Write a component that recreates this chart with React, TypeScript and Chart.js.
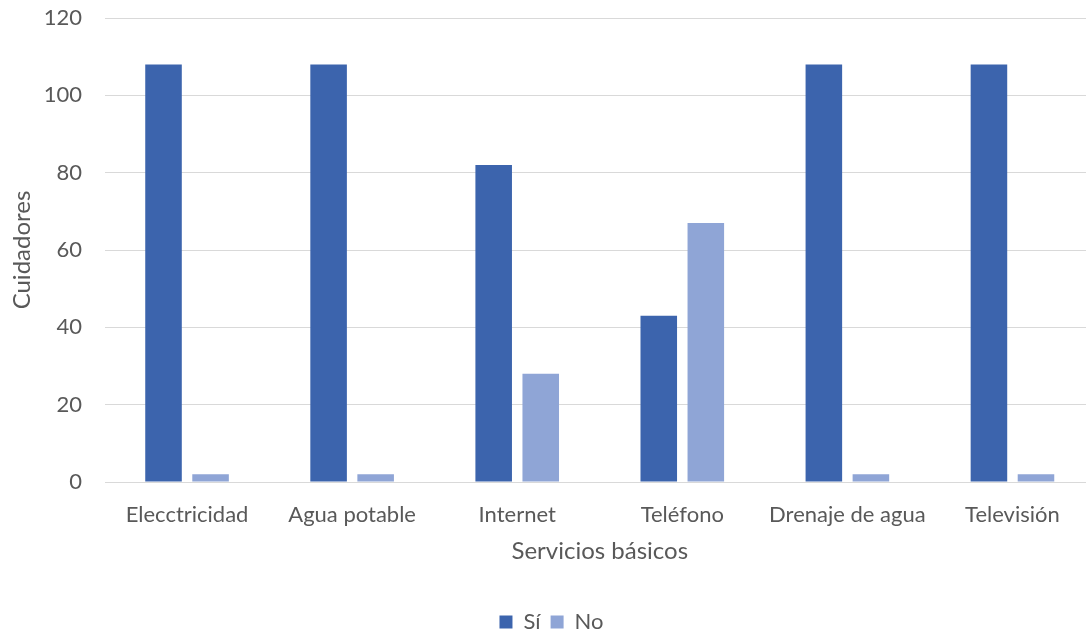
import React, { useEffect, useRef } from "react";
import { Chart, registerables } from "chart.js";

Chart.register(...registerables);

// Servicios básicos de los cuidadores
const categories = [
  "Elecctricidad",
  "Agua potable",
  "Internet",
  "Teléfono",
  "Drenaje de agua",
  "Televisión",
];
const siValues = [108, 108, 82, 43, 108, 108];
const noValues = [2, 2, 28, 67, 2, 2];
const yTicks = { min: 0, max: 120, step: 20 };

const FONT = "Lato, 'Open Sans', sans-serif";
const TEXT = "#595959";
const GRID = "#d9d9d9";

export default function App() {
  const canvasRef = useRef<HTMLCanvasElement | null>(null);

  useEffect(() => {
    const canvas = canvasRef.current;
    if (!canvas) return;
    const chart = new Chart(canvas, {
      type: "bar",
      data: {
        labels: categories,
        datasets: [
          {
            label: "Sí",
            data: siValues,
            backgroundColor: "#3c64ad",
            categoryPercentage: 0.57,
            barPercentage: 0.777,
          },
          {
            label: "No",
            data: noValues,
            backgroundColor: "#8fa5d6",
            categoryPercentage: 0.57,
            barPercentage: 0.777,
          },
        ],
      },
      options: {
        responsive: false,
        animation: false,
        layout: { padding: { top: 18, right: 0, bottom: 7, left: 0 } },
        plugins: {
          tooltip: { enabled: false },
          legend: {
            position: "bottom",
            labels: {
              boxWidth: 13,
              boxHeight: 13,
              padding: 10,
              color: TEXT,
              font: { family: FONT, size: 22 },
            },
          },
        },
        scales: {
          x: {
            grid: { display: false },
            border: { display: false },
            ticks: {
              color: TEXT,
              padding: 12,
              font: { family: FONT, size: 22 },
              maxRotation: 0,
              autoSkip: false,
            },
            title: {
              display: true,
              text: "Servicios básicos",
              color: TEXT,
              font: { family: FONT, size: 24 },
              padding: { top: 0, bottom: 35.6 },
            },
            afterFit: (scale: any) => {
              scale.height = 119;
              scale.paddingLeft = 0;
              scale.paddingRight = 0;
            },
          },
          y: {
            min: yTicks.min,
            max: yTicks.max,
            grid: { color: GRID, lineWidth: 1, drawTicks: false },
            border: { display: false },
            ticks: {
              stepSize: yTicks.step,
              color: TEXT,
              padding: 22.5,
              font: { family: FONT, size: 22 },
            },
            title: {
              display: true,
              text: "Cuidadores",
              color: TEXT,
              font: { family: FONT, size: 24 },
              padding: { top: 0, bottom: 0 },
            },
            afterFit: (scale: any) => {
              scale.width = 96.5;
              scale.paddingTop = 0;
              scale.paddingBottom = 0;
            },
          },
        },
      },
    });
    return () => chart.destroy();
  }, []);

  return (
    <div
      style={{
        position: "absolute",
        left: 0,
        top: 0,
        width: 1086,
        height: 634,
        overflow: "hidden",
        background: "#ffffff",
      }}
    >
      <canvas
        ref={canvasRef}
        width={1087}
        height={650}
        style={{ position: "absolute", left: 8, top: 0, width: 1087, height: 650 }}
      />
    </div>
  );
}
